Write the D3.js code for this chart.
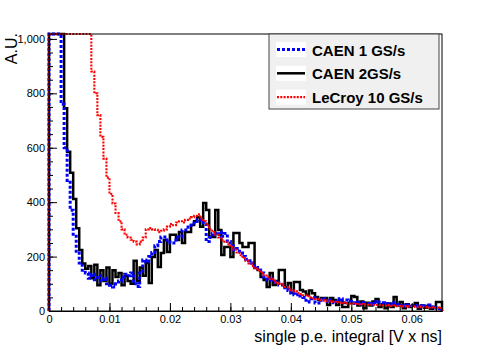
<!DOCTYPE html>
<html lang="en">
<head>
  <meta charset="UTF-8">
  <title>single p.e. integral</title>
  <script src="https://d3js.org/d3.v7.min.js"></script>
  <style>
    body { margin: 0; background: #fff; }
    svg { width: 491px; height: 347px; font-family: "Liberation Sans", Arial, sans-serif; }
  </style>
</head>
<body>
  <svg></svg>

  <script>
    // histogram binning (V x ns)
    const binWidth = 0.0005;
    const xMax = 0.065;

    // CAEN 1 GS/s
    const caen1 = [
      1400, 1400, 1400, 1400, 760, 600, 480, 370, 275, 213,
      176, 150, 140, 120, 135, 115, 130, 110, 120, 100,
      95, 88, 100, 110, 125, 135, 130, 140, 100, 90,
      140, 187, 180, 200, 215, 240, 255, 272, 272, 261,
      250, 250, 272, 272, 298, 298, 309, 323, 330, 335,
      335, 320, 255, 270, 285, 280, 290, 275, 285, 255,
      240, 225, 230, 213, 200, 190, 185, 176, 160, 150,
      140, 125, 114, 120, 114, 105, 96, 96, 85, 75,
      66, 60, 62, 55, 50, 33, 45, 50, 29, 29,
      40, 45, 35, 40, 30, 35, 45, 30, 40, 35,
      30, 28, 32, 25, 30, 28, 25, 33, 30, 33,
      30, 28, 25, 22, 30, 25, 20, 22, 18, 22,
      20, 18, 20, 15, 18, 22, 15, 12, 10, 8
    ];

    // CAEN 2GS/s
    const caen2 = [
      1400, 1400, 1400, 1400, 1400, 745, 585, 508, 412, 304,
      224, 175, 155, 165, 120, 170, 95, 150, 110, 160,
      100, 150, 125, 140, 95, 130, 110, 100, 185, 110,
      160, 130, 176, 103, 198, 224, 162, 213, 261, 217,
      280, 280, 261, 290, 250, 290, 290, 316, 330, 345,
      310, 397, 371, 272, 272, 371, 298, 206, 235, 235,
      198, 287, 287, 250, 235, 235, 250, 250, 158, 151,
      125, 114, 88, 140, 96, 110, 151, 151, 88, 103,
      66, 107, 107, 77, 72, 60, 75, 65, 51, 40,
      48, 48, 22, 48, 40, 22, 40, 15, 15, 30,
      55, 51, 20, 35, 10, 30, 20, 35, 44, 15,
      25, 10, 28, 15, 51, 20, 33, 10, 25, 15,
      20, 29, 8, 20, 12, 18, 8, 15, 33, 33
    ];

    // LeCroy 10 GS/s
    const lecroy = [
      1400, 1400, 1400, 1400, 1400, 1400, 1400, 1400, 1400, 1400,
      1400, 1400, 1400, 1400, 880, 800, 720, 640, 560, 490,
      430, 395, 360, 330, 300, 280, 270, 262, 255, 245,
      255, 270, 300, 305, 300, 298, 290, 295, 300, 310,
      320, 315, 325, 330, 325, 335, 340, 345, 350, 355,
      340, 330, 315, 300, 290, 280, 270, 260, 255, 245,
      235, 225, 215, 205, 195, 185, 175, 165, 155, 150,
      140, 130, 125, 118, 112, 105, 100, 95, 88, 82,
      76, 72, 66, 62, 58, 54, 50, 47, 44, 42,
      40, 38, 36, 35, 33, 32, 30, 31, 28, 27,
      27, 26, 25, 26, 24, 23, 24, 22, 23, 21,
      21, 20, 22, 19, 20, 18, 19, 17, 18, 16,
      17, 15, 16, 14, 15, 13, 14, 12, 13, 11
    ];

    const xTicks = [0, 0.01, 0.02, 0.03, 0.04, 0.05, 0.06];
    const yTicks = [0, 200, 400, 600, 800, 1000];

    const series = [
      {name: `CAEN 2GS/s`, values: caen2, color: `#000`, width: 2.5, dash: null},
      {name: `CAEN 1 GS/s`, values: caen1, color: `#0000ff`, width: 3, dash: `3,2`},
      {name: `LeCroy 10 GS/s`, values: lecroy, color: `#ff0000`, width: 2.1, dash: `2,1.3`},
    ];
    const legendOrder = [1, 0, 2];

    const margin = {top: 34, right: 49, bottom: 36, left: 49};
    const width = 491;
    const height = 347;

    const xScale = d3.scaleLinear()
      .domain([0, xMax])
      .range([margin.left, width - margin.right]);

    const yScale = d3.scaleLinear()
      .domain([0, 1018])
      .range([height - margin.bottom, margin.top])
      .clamp(true);

    const svg = d3.select(`svg`);

    // histogram outlines
    const histPoints = values => {
      const pts = [[0, 0]];
      values.forEach((v, i) => {
        pts.push([i * binWidth, v]);
        pts.push([(i + 1) * binWidth, v]);
      });
      pts.push([values.length * binWidth, 0]);
      return pts;
    };

    const line = d3.line()
      .x(d => xScale(d[0]))
      .y(d => yScale(d[1]));

    svg.selectAll(`path.hist`)
      .data(series)
      .enter()
      .append(`path`)
      .attr(`class`, `hist`)
      .attr(`d`, d => line(histPoints(d.values)))
      .attr(`fill`, `none`)
      .attr(`stroke`, d => d.color)
      .attr(`stroke-width`, d => d.width)
      .attr(`stroke-dasharray`, d => d.dash)
      .attr(`stroke-linejoin`, `miter`);

    // frame
    svg.append(`rect`)
      .attr(`x`, xScale(0))
      .attr(`y`, yScale(1018))
      .attr(`width`, xScale(xMax) - xScale(0))
      .attr(`height`, yScale(0) - yScale(1018))
      .attr(`fill`, `none`)
      .attr(`stroke`, `#000`)
      .attr(`stroke-width`, 1);

    // axes, ticks pointing inwards like ROOT
    const xAxis = d3.axisBottom(xScale)
      .tickValues(xTicks)
      .tickSizeInner(-8)
      .tickSizeOuter(0)
      .tickPadding(4)
      .tickFormat(d => d === 0 ? `0` : d.toFixed(2));

    const xMinor = d3.axisBottom(xScale)
      .tickValues(d3.range(0, 0.0645, 0.002))
      .tickSizeInner(-4)
      .tickSizeOuter(0)
      .tickFormat(``);

    const yAxis = d3.axisLeft(yScale)
      .tickValues(yTicks)
      .tickSizeInner(-8)
      .tickSizeOuter(0)
      .tickPadding(4);

    const yMinor = d3.axisLeft(yScale)
      .tickValues(d3.range(0, 1001, 50))
      .tickSizeInner(-4)
      .tickSizeOuter(0)
      .tickFormat(``);

    const gx = svg.append(`g`)
      .attr(`transform`, `translate(0, ${yScale(0)})`);
    gx.append(`g`).call(xMinor);
    gx.append(`g`).call(xAxis);

    const gy = svg.append(`g`)
      .attr(`transform`, `translate(${xScale(0)}, 0)`);
    gy.append(`g`).call(yMinor);
    gy.append(`g`).call(yAxis);

    svg.selectAll(`.tick text`)
      .attr(`font-size`, 11)
      .attr(`font-family`, `"Liberation Sans", Arial, sans-serif`)
      .attr(`fill`, `#000`);

    // axis titles
    svg.append(`text`)
      .attr(`x`, 442)
      .attr(`y`, 342)
      .attr(`text-anchor`, `end`)
      .attr(`font-size`, 16)
      .text(`single p.e. integral [V x ns]`);

    svg.append(`text`)
      .attr(`transform`, `translate(17, 33) rotate(-90)`)
      .attr(`text-anchor`, `end`)
      .attr(`font-size`, 16)
      .text(`A.U.`);

    // legend
    const legend = svg.append(`g`);
    legend.append(`rect`)
      .attr(`x`, 269)
      .attr(`y`, 34)
      .attr(`width`, 170)
      .attr(`height`, 75)
      .attr(`fill`, `#f0f0f0`)
      .attr(`stroke`, `#444`)
      .attr(`stroke-width`, 1);

    legendOrder.forEach((k, row) => {
      const s = series[k];
      const cy = 49.5 + row * 23.8;
      legend.append(`rect`)
        .attr(`x`, 276)
        .attr(`y`, cy - 7.5)
        .attr(`width`, 30)
        .attr(`height`, 15)
        .attr(`fill`, `#fff`);
      legend.append(`line`)
        .attr(`x1`, 277)
        .attr(`x2`, 305)
        .attr(`y1`, cy)
        .attr(`y2`, cy)
        .attr(`stroke`, s.color)
        .attr(`stroke-width`, s.width)
        .attr(`stroke-dasharray`, s.dash);
      legend.append(`text`)
        .attr(`x`, 312)
        .attr(`y`, cy + 6)
        .attr(`font-size`, 15)
        .attr(`font-weight`, `bold`)
        .text(s.name);
    });
  </script>
</body>
</html>
